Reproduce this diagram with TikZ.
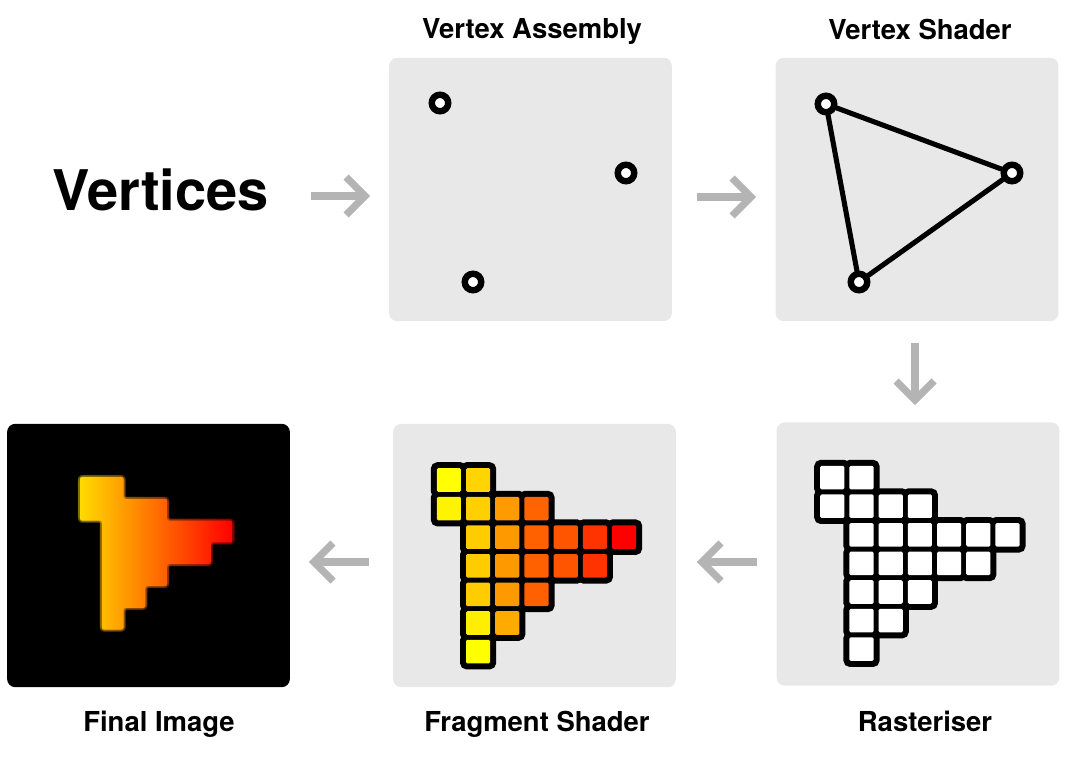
\documentclass[tikz,border=0pt]{standalone}
\usepackage{fontspec}
\setmainfont{TeX Gyre Heros}
\usetikzlibrary{calc}
\definecolor{panelgrey}{HTML}{E8E8E8}
\definecolor{arrowgrey}{HTML}{B4B4B4}
\definecolor{fiyellow}{HTML}{FFDA00}
\definecolor{fiorange}{HTML}{FF6A00}
\definecolor{fired}{HTML}{FF0000}
\begin{document}
\begin{tikzpicture}[x=0.75pt,y=-0.75pt,
  panel/.style={rectangle, rounded corners=6pt, fill=panelgrey, minimum width=212pt, minimum height=197.5pt, inner sep=0pt},
  finalpanel/.style={panel, fill=black},
  title/.style={font=\fontsize{20.6pt}{24pt}\selectfont\bfseries, inner sep=0pt, anchor=base},
  bigtitle/.style={font=\fontsize{42pt}{48pt}\selectfont\bfseries, inner sep=0pt, anchor=base west},
  vdot/.style={circle, draw=black, fill=white, line width=4.8pt, minimum size=12.4pt, inner sep=0pt},
  edge/.style={line width=3.8pt, line cap=round},
  gshaft/.style={draw=arrowgrey, line width=5.4pt},
  ghead/.style={draw=arrowgrey, line width=5.4pt, miter limit=10},
  cellstroke/.style={draw=black, line width=5.2pt, rounded corners=2.5pt},
  fishape/.style={left color=fiyellow, middle color=fiorange, right color=fired, rounded corners=1.5pt},
]
\useasboundingbox (0,0) rectangle (1068,760);

% panels
\node[panel] (va) at (530.5,189.5) {};
\node[panel] (vs) at (917,189.5) {};
\node[panel] (ra) at (918,554) {};
\node[panel] (fs) at (534.5,555.5) {};
\node[finalpanel] (fi) at (148.5,555.5) {};

% titles
\node[bigtitle] (vt) at (52,210) {Vertices};
\node[title] (tva) at (532,38) {Vertex Assembly};
\node[title] (tvs) at (920,39) {Vertex Shader};
\node[title] (tra) at (925,731) {Rasteriser};
\node[title] (tfs) at (537,731) {Fragment Shader};
\node[title] (tfi) at (159,731) {Final Image};

% vertex assembly points
\node[vdot] (p1) at (440,103) {};
\node[vdot] (p2) at (626,173) {};
\node[vdot] (p3) at (473,282) {};

% vertex shader triangle
\node[vdot] (q1) at (826,104) {};
\node[vdot] (q2) at (1012,173) {};
\node[vdot] (q3) at (859,282) {};
\draw[edge] (q1) -- (q2);
\draw[edge] (q2) -- (q3);
\draw[edge] (q3) -- (q1);

% arrows
\coordinate (s1) at (311,196); \coordinate (t1) at (365,196);
\coordinate (s2) at (697,197); \coordinate (t2) at (751,197);
\coordinate (s3) at (915,343); \coordinate (t3) at (915,400);
\coordinate (s4) at (757,562); \coordinate (t4) at (702,562);
\coordinate (s5) at (369,562); \coordinate (t5) at (314,562);
\draw[gshaft] (s1) -- (t1);
\draw[ghead] ($(t1)+(-19,-19)$) -- (t1) -- ($(t1)+(-19,19)$);
\draw[gshaft] (s2) -- (t2);
\draw[ghead] ($(t2)+(-19,-19)$) -- (t2) -- ($(t2)+(-19,19)$);
\draw[gshaft] (s3) -- (t3);
\draw[ghead] ($(t3)+(-19,-19)$) -- (t3) -- ($(t3)+(19,-19)$);
\draw[gshaft] (s4) -- (t4);
\draw[ghead] ($(t4)+(19,-19)$) -- (t4) -- ($(t4)+(19,19)$);
\draw[gshaft] (s5) -- (t5);
\draw[ghead] ($(t5)+(19,-19)$) -- (t5) -- ($(t5)+(19,19)$);

% rasteriser grid
\begin{scope}[shift={(817.7,463.3)}, x=21.9pt, y=-21.45pt]
  \foreach \c/\r in {0/0,1/0,0/1,1/1,2/1,3/1,1/2,2/2,3/2,4/2,5/2,6/2,1/3,2/3,3/3,4/3,5/3,1/4,2/4,3/4,1/5,2/5,1/6}{
    \draw[cellstroke] (\c,\r) rectangle ++(1,1);
  }
  \foreach \c/\r in {0/0,1/0,0/1,1/1,2/1,3/1,1/2,2/2,3/2,4/2,5/2,6/2,1/3,2/3,3/3,4/3,5/3,1/4,2/4,3/4,1/5,2/5,1/6}{
    \fill[white, rounded corners=1pt] ($(\c,\r)+(1.9pt,-1.9pt)$) rectangle ($(\c+1,\r+1)+(-1.9pt,1.9pt)$);
  }
\end{scope}

% fragment shader grid
\begin{scope}[shift={(434.3,465.7)}, x=21.9pt, y=-21.45pt]
  \foreach \c/\r in {0/0,1/0,0/1,1/1,2/1,3/1,1/2,2/2,3/2,4/2,5/2,6/2,1/3,2/3,3/3,4/3,5/3,1/4,2/4,3/4,1/5,2/5,1/6}{
    \draw[cellstroke] (\c,\r) rectangle ++(1,1);
  }
  \foreach \c/\r/\h in {0/0/FFFF00,1/0/FFD400,0/1/FFF400,1/1/FFD000,2/1/FF9A00,3/1/FF6400,
      1/2/FFCC00,2/2/FF9900,3/2/FF6000,4/2/FF5500,5/2/FF3300,6/2/FF0000,
      1/3/FFCC00,2/3/FF9900,3/3/FF6000,4/3/FF5500,5/3/FF3300,
      1/4/FFCC00,2/4/FF9900,3/4/FF6000,1/5/FFEE00,2/5/FFAA00,1/6/FFFF00}{
    \definecolor{cellc}{HTML}{\h}
    \fill[cellc, rounded corners=1pt] ($(\c,\r)+(1.9pt,-1.9pt)$) rectangle ($(\c+1,\r+1)+(-1.9pt,1.9pt)$);
  }
\end{scope}

% final image (soft edges from offset translucent copies)
\foreach \dx/\dy in {-2.2/0,2.2/0,0/-2.2,0/2.2,-1.6/-1.6,1.6/1.6,-1.6/1.6,1.6/-1.6}{
  \begin{scope}[shift={(80+\dx,477+\dy)}, x=16.35pt, y=-16.35pt, opacity=0.22]
    \shade[fishape]
      (0,0) -- (2,0) -- (2,1) -- (4,1) -- (4,2) -- (7,2) -- (7,3) -- (6,3) -- (6,4) -- (4,4)
      -- (4,5) -- (3,5) -- (3,6) -- (2,6) -- (2,7) -- (1,7) -- (1,2) -- (0,2) -- cycle;
  \end{scope}
}
\begin{scope}[shift={(80,477)}, x=16.35pt, y=-16.35pt]
  \shade[fishape]
    (0,0) -- (2,0) -- (2,1) -- (4,1) -- (4,2) -- (7,2) -- (7,3) -- (6,3) -- (6,4) -- (4,4)
    -- (4,5) -- (3,5) -- (3,6) -- (2,6) -- (2,7) -- (1,7) -- (1,2) -- (0,2) -- cycle;
\end{scope}
\end{tikzpicture}
\end{document}
